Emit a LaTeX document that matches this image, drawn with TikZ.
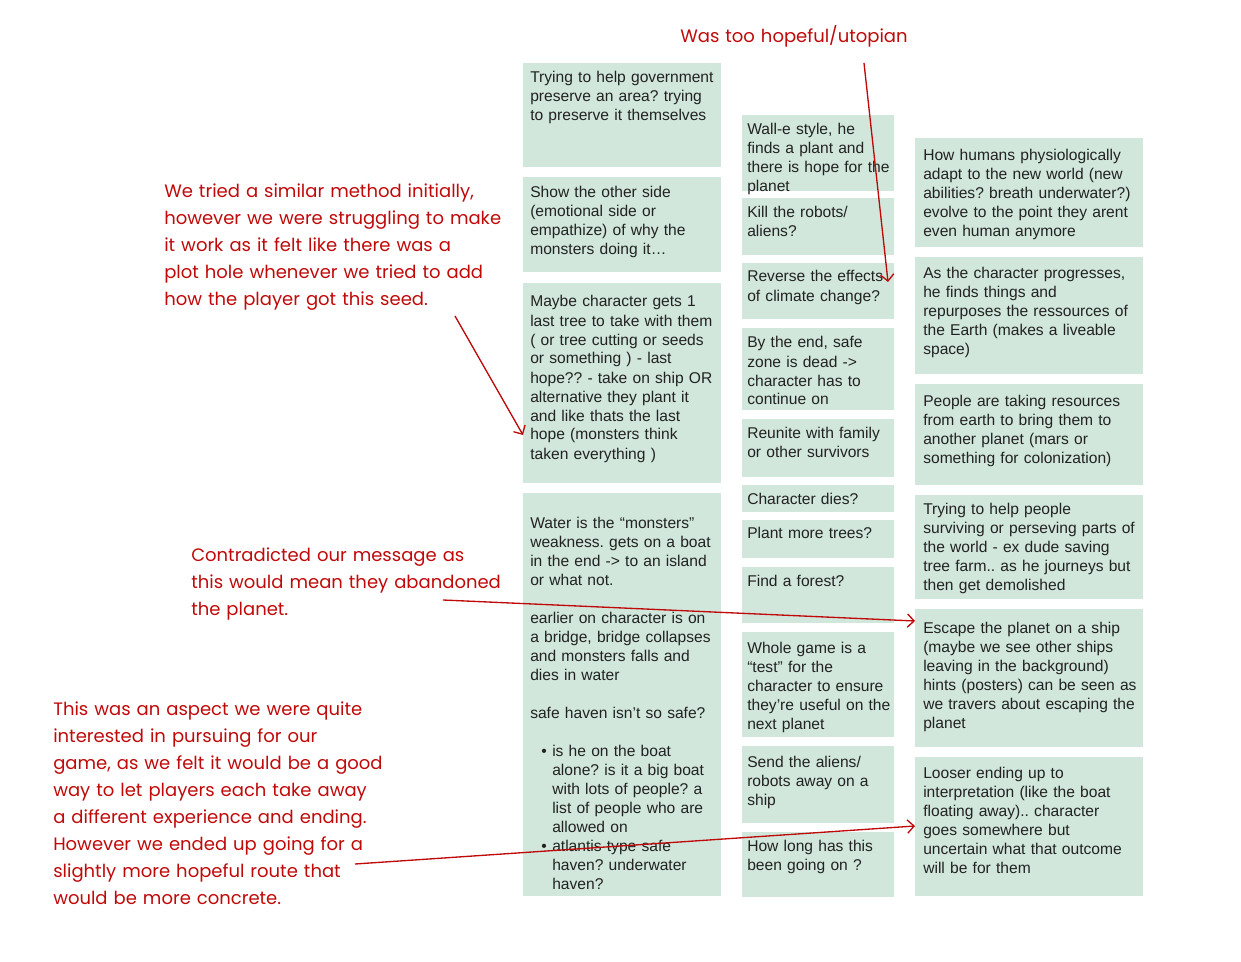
\documentclass[tikz,border=0pt]{standalone}
\usepackage{fontspec}
\setmainfont{Liberation Sans}
\newfontfamily\handfont{Poppins}
\usepackage{xcolor}
\usetikzlibrary{arrows.meta}
\definecolor{notegreen}{RGB}{209,231,219}
\definecolor{inkgrey}{RGB}{34,34,34}
\definecolor{inkred}{RGB}{192,10,10}
\frenchspacing

\begin{document}
\begin{tikzpicture}[x=0.75pt,y=-0.75pt,
  note/.style 2 args={fill=notegreen,inner sep=0pt,outer sep=0pt,anchor=north west,
    minimum width=#1*0.75pt,minimum height=#2*0.75pt},
  notetext/.style={anchor=base west,inner sep=0pt,text width=250pt,align=left,
    text=inkgrey,font=\fontsize{11.7pt}{14.25pt}\selectfont\frenchspacing},
  hand/.style={anchor=base west,inner sep=0pt,text width=400pt,align=left,
    text=inkred,font=\handfont\fontsize{13.5pt}{20.25pt}\selectfont\frenchspacing},
  ink/.style={draw=inkred,line width=1pt,-{Straight Barb[length=5pt,width=10pt]}}]
  \fill[white] (0,0) rectangle (1241,962);
  \useasboundingbox (0,0) rectangle (1241,962);

  % first column
  \node[note={198}{104}] (gov) at (523,63) {};
  \node[notetext] at ([shift={(7,20)}]gov.north west) {Trying to help government\\preserve an area? trying\\to preserve it themselves};
  \node[note={198}{95}] (otherside) at (523,177) {};
  \node[notetext] at ([shift={(7,21)}]otherside.north west) {Show the other side\\(emotional side or\\empathize) of why the\\monsters doing it…};
  \node[note={198}{200}] (lasttree) at (523,283) {};
  \node[notetext] at ([shift={(7,24)}]lasttree.north west) {Maybe character gets 1\\last tree to take with them\\( or tree cutting or seeds\\or something ) - last\\hope?? - take on ship OR\\alternative they plant it\\and like thats the last\\hope (monsters think\\taken everything )};
  \node[note={198}{403}] (water) at (523,493) {};
  \node[notetext] at ([shift={(7,35)}]water.north west) {Water is the “monsters”\\weakness. gets on a boat\\in the end -> to an island\\or what not.\\[14.25pt]earlier on character is on\\a bridge, bridge collapses\\and monsters falls and\\dies in water\\[14.25pt]safe haven isn’t so safe?\\[14.25pt]\hspace*{8.25pt}\makebox[8.25pt][l]{•}is he on the boat\\\hspace*{16.5pt}alone? is it a big boat\\\hspace*{16.5pt}with lots of people? a\\\hspace*{16.5pt}list of people who are\\\hspace*{16.5pt}allowed on\\\hspace*{8.25pt}\makebox[8.25pt][l]{•}atlantis type safe\\\hspace*{16.5pt}haven? underwater\\\hspace*{16.5pt}haven?};

  % second column
  \node[note={152}{76}] (walle) at (742,115) {};
  \node[notetext] at ([shift={(5,20)}]walle.north west) {Wall-e style, he\\finds a plant and\\there is hope for the\\planet};
  \node[note={152}{57}] (robots) at (742,198) {};
  \node[notetext] at ([shift={(5,20)}]robots.north west) {Kill the robots/\\aliens?};
  \node[note={152}{56}] (reverse) at (742,263) {};
  \node[notetext] at ([shift={(5,19)}]reverse.north west) {Reverse the effects\\of climate change?};
  \node[note={152}{82}] (safezone) at (742,328) {};
  \node[notetext] at ([shift={(5,20)}]safezone.north west) {By the end, safe\\zone is dead ->\\character has to\\continue on};
  \node[note={152}{58}] (reunite) at (742,419) {};
  \node[notetext] at ([shift={(5,19)}]reunite.north west) {Reunite with family\\or other survivors};
  \node[note={152}{27}] (dies) at (742,485) {};
  \node[notetext] at ([shift={(5,19)}]dies.north west) {Character dies?};
  \node[note={152}{38}] (trees) at (742,520) {};
  \node[notetext] at ([shift={(5,18)}]trees.north west) {Plant more trees?};
  \node[note={152}{56}] (forest) at (742,567) {};
  \node[notetext] at ([shift={(5,19)}]forest.north west) {Find a forest?};
  \node[note={152}{105}] (test) at (742,632) {};
  \node[notetext] at ([shift={(5,21)}]test.north west) {Whole game is a\\“test” for the\\character to ensure\\they’re useful on the\\next planet};
  \node[note={152}{77}] (sendaway) at (742,746) {};
  \node[notetext] at ([shift={(5,21)}]sendaway.north west) {Send the aliens/\\robots away on a\\ship};
  \node[note={152}{65}] (howlong) at (742,832) {};
  \node[notetext] at ([shift={(5,19)}]howlong.north west) {How long has this\\been going on ?};

  % third column
  \node[note={228}{109}] (adapt) at (915,138) {};
  \node[notetext] at ([shift={(8,23)}]adapt.north west) {How humans physiologically\\adapt to the new world (new\\abilities? breath underwater?)\\evolve to the point they arent\\even human anymore};
  \node[note={228}{117}] (progress) at (915,257) {};
  \node[notetext] at ([shift={(8,22)}]progress.north west) {As the character progresses,\\he finds things and\\repurposes the ressources of\\the Earth (makes a liveable\\space)};
  \node[note={228}{101}] (resources) at (915,384) {};
  \node[notetext] at ([shift={(8,22)}]resources.north west) {People are taking resources\\from earth to bring them to\\another planet (mars or\\something for colonization)};
  \node[note={228}{104}] (helppeople) at (915,495) {};
  \node[notetext] at ([shift={(8,19)}]helppeople.north west) {Trying to help people\\surviving or perseving parts of\\the world - ex dude saving\\tree farm.. as he journeys but\\then get demolished};
  \node[note={228}{138}] (escape) at (915,609) {};
  \node[notetext] at ([shift={(8,24)}]escape.north west) {Escape the planet on a ship\\(maybe we see other ships\\leaving in the background)\\hints (posters) can be seen as\\we travers about escaping the\\planet};
  \node[note={228}{139}] (looser) at (915,757) {};
  \node[notetext] at ([shift={(8,21)}]looser.north west) {Looser ending up to\\interpretation (like the boat\\floating away).. character\\goes somewhere but\\uncertain what that outcome\\will be for them};

  % comments in red
  \node[hand] (utopian) at (680,43) {Was too hopeful/utopian};
  \node[hand] (seedcomment) at (164,198) {We tried a similar method initially,\\however we were struggling to make\\it work as it felt like there was a\\plot hole whenever we tried to add\\how the player got this seed.};
  \node[hand] (abandoned) at (191,561) {Contradicted our message as\\this would mean they abandoned\\the planet.};
  \node[hand] (concrete) at (53,715) {This was an aspect we were quite\\interested in pursuing for our\\game, as we felt it would be a good\\way to let players each take away\\a different experience and ending.\\However we ended up going for a\\slightly more hopeful route that\\would be more concrete.};

  \coordinate (utopiantail) at (864,63);
  \coordinate (seedtail) at (455,316);
  \coordinate (abandonedtail) at (443,600);
  \coordinate (concretetail) at (355,864);
  \draw[ink] (utopiantail) -- ([shift={(-6,19)}]reverse.north east);
  \draw[ink] (seedtail) -- (lasttree.west |- 0,435);
  \draw[ink] (abandonedtail) -- (escape.west |- 0,621);
  \draw[ink] (concretetail) -- (looser.west |- 0,826);
\end{tikzpicture}
\end{document}
